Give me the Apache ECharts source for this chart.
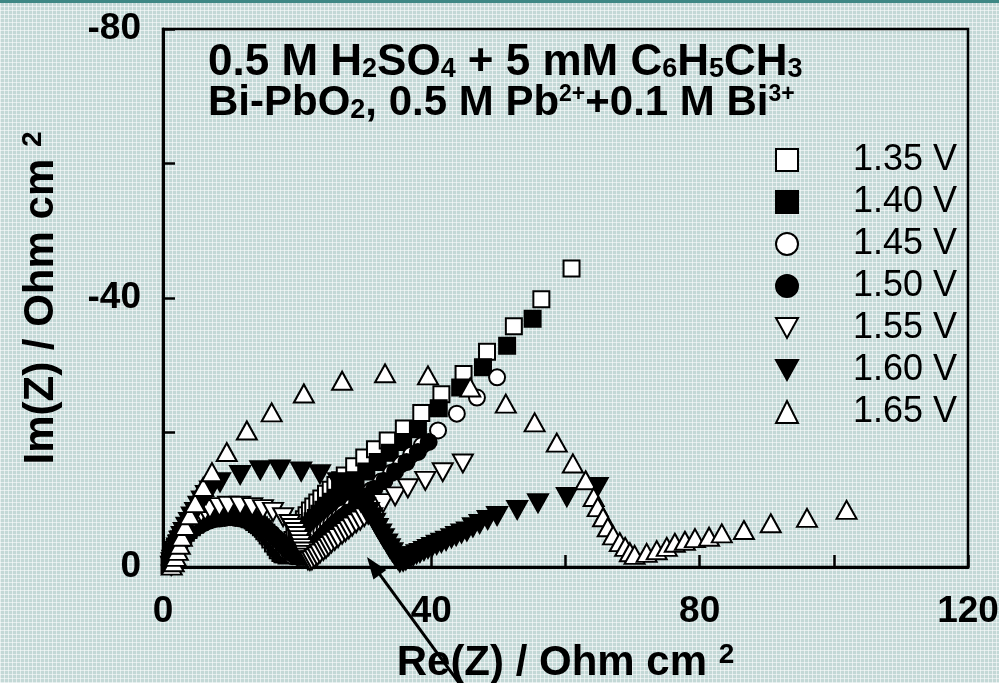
<!DOCTYPE html>
<html><head><meta charset="utf-8">
<script src="https://cdn.jsdelivr.net/npm/echarts@6/dist/echarts.min.js"></script>
<style>
html,body{margin:0;padding:0;width:999px;height:683px;overflow:hidden;}
body{background-color:#c3d8d6;background-image:repeating-linear-gradient(0deg,rgba(255,255,255,.55) 0 1px,transparent 1px 4px),repeating-linear-gradient(90deg,rgba(255,255,255,.55) 0 1px,transparent 1px 4px);}
#bar{position:absolute;left:0;top:0;width:999px;height:3px;background:#3d8784;}
#c{position:absolute;left:0;top:0;width:999px;height:683px;}
</style></head><body><div id="bar"></div><div id="c"></div>
<script>
// ---- data: [Re(Z), Im(Z)] in Ohm cm^2 ----
const seriesNames = ['1.35 V','1.40 V','1.45 V','1.50 V','1.55 V','1.60 V','1.65 V'];
const xTickLabels = [0, 40, 80, 120];
const yTickLabels = [0, -40, -80];

const s135 = [[1.0,-0.3],[1.1,-0.8],[1.2,-1.2],[1.35,-1.7],[1.5,-2.1],[1.7,-2.6],[1.9,-3.0],[2.1,-3.4],[2.4,-3.9],[2.7,-4.4],[3.0,-4.8],[3.4,-5.3],[3.8,-5.7],[4.3,-6.1],[4.8,-6.5],[5.4,-6.9],[6.0,-7.2],[6.7,-7.5],[7.4,-7.7],[8.1,-7.9],[8.9,-8.0],[9.7,-8.1],[10.5,-8.0],[11.3,-7.8],[12.0,-7.6],[12.7,-7.3],[13.4,-6.9],[14.0,-6.4],[14.6,-5.9],[15.1,-5.3],[15.6,-4.7],[16.0,-4.1],[16.4,-3.5],[16.8,-3.0],[17.1,-2.5],[17.5,-2.1],[17.8,-1.9],[18.2,-2.2],[18.6,-2.8],[19.0,-3.5],[19.3,-4.0],[19.6,-4.6],[19.9,-5.2],[20.2,-5.8],[20.6,-6.4],[21.0,-7.1],[21.4,-7.7],[21.9,-8.4],[22.4,-9.0],[23.0,-9.6],[23.6,-10.2],[24.3,-10.9],[25.0,-11.5],[25.7,-12.2],[26.4,-12.9],[27.1,-13.6],[28.5,-15.0],[30.0,-16.3],[31.6,-17.5],[33.5,-18.8],[35.9,-20.6],[38.5,-22.9],[41.5,-25.7],[44.8,-28.7],[48.3,-32.0],[52.3,-35.8],[56.4,-39.8],[60.9,-44.4]];
const s140 = [[1.0,-0.3],[1.1,-0.7],[1.2,-1.1],[1.35,-1.6],[1.5,-2.0],[1.7,-2.5],[1.9,-2.9],[2.1,-3.3],[2.4,-3.8],[2.7,-4.3],[3.0,-4.7],[3.4,-5.1],[3.8,-5.5],[4.3,-5.9],[4.8,-6.3],[5.4,-6.7],[6.0,-7.0],[6.7,-7.3],[7.4,-7.5],[8.1,-7.7],[8.9,-7.8],[9.7,-7.9],[10.5,-7.8],[11.3,-7.6],[12.1,-7.4],[12.9,-7.1],[13.6,-6.7],[14.3,-6.2],[14.9,-5.7],[15.4,-5.1],[15.9,-4.5],[16.4,-3.9],[16.8,-3.3],[17.2,-2.8],[17.6,-2.3],[18.0,-1.9],[18.4,-1.7],[18.8,-1.9],[19.2,-2.3],[19.6,-2.9],[19.9,-3.4],[20.2,-3.9],[20.6,-4.5],[21.0,-5.1],[21.4,-5.7],[21.8,-6.2],[22.3,-6.8],[22.8,-7.3],[23.3,-7.9],[23.9,-8.5],[24.5,-9.1],[25.1,-9.7],[25.8,-10.3],[26.5,-11.0],[27.2,-11.6],[28.7,-12.9],[30.3,-14.2],[32.0,-15.6],[33.8,-17.0],[35.8,-18.6],[38.0,-20.5],[41.1,-23.6],[44.3,-26.7],[47.7,-29.7],[51.3,-32.9],[55.1,-36.9]];
const s145 = [[1.0,-0.3],[1.1,-0.7],[1.2,-1.1],[1.35,-1.5],[1.5,-1.9],[1.7,-2.4],[1.9,-2.8],[2.1,-3.2],[2.4,-3.7],[2.7,-4.2],[3.1,-4.6],[3.5,-5.0],[3.9,-5.4],[4.4,-5.8],[4.9,-6.2],[5.5,-6.5],[6.1,-6.8],[6.8,-7.1],[7.5,-7.3],[8.2,-7.4],[9.0,-7.5],[9.8,-7.6],[10.6,-7.5],[11.4,-7.4],[12.2,-7.2],[13.0,-6.9],[13.8,-6.5],[14.5,-6.1],[15.2,-5.6],[15.8,-5.1],[16.4,-4.5],[17.0,-3.9],[17.5,-3.3],[18.0,-2.8],[18.4,-2.3],[18.9,-1.9],[19.3,-1.6],[19.8,-1.6],[20.2,-1.8],[20.6,-2.2],[21.0,-2.6],[21.4,-3.0],[21.8,-3.5],[22.2,-3.9],[22.7,-4.4],[23.1,-4.8],[23.6,-5.3],[24.1,-5.7],[24.6,-6.2],[25.1,-6.6],[25.7,-7.1],[26.3,-7.6],[26.9,-8.1],[28.2,-9.1],[29.6,-10.2],[31.0,-11.4],[32.5,-12.7],[34.0,-14.0],[35.5,-15.3],[37.0,-16.7],[38.6,-18.1],[41.0,-20.3],[43.8,-22.8],[46.8,-25.2],[49.8,-28.2]];
const s150 = [[1.0,-0.3],[1.1,-0.6],[1.2,-1.0],[1.35,-1.4],[1.5,-1.8],[1.7,-2.3],[1.9,-2.7],[2.2,-3.2],[2.5,-3.6],[2.8,-4.1],[3.2,-4.5],[3.6,-4.9],[4.0,-5.3],[4.5,-5.7],[5.0,-6.0],[5.6,-6.3],[6.2,-6.6],[6.9,-6.9],[7.6,-7.1],[8.4,-7.2],[9.2,-7.3],[10.0,-7.4],[10.8,-7.3],[11.6,-7.2],[12.4,-7.0],[13.2,-6.7],[14.0,-6.4],[14.8,-6.0],[15.5,-5.5],[16.2,-5.0],[16.8,-4.4],[17.4,-3.9],[17.9,-3.3],[18.4,-2.8],[18.9,-2.3],[19.4,-1.9],[19.9,-1.6],[20.4,-1.5],[20.9,-1.5],[21.4,-1.8],[21.8,-2.2],[22.2,-2.6],[22.6,-3.1],[23.0,-3.6],[23.4,-4.1],[23.8,-4.6],[24.3,-5.1],[24.8,-5.6],[25.3,-6.1],[25.8,-6.6],[26.4,-7.1],[27.0,-7.6],[27.6,-8.1],[28.9,-9.3],[30.2,-10.5],[31.5,-11.6],[33.0,-12.8],[34.6,-14.2],[36.3,-15.6],[38.0,-17.1],[39.6,-18.6]];
const s155 = [[1.2,-0.2],[1.3,-0.7],[1.4,-1.1],[1.6,-1.5],[1.75,-2.0],[1.9,-2.4],[2.1,-2.9],[2.4,-3.4],[2.7,-4.0],[3.0,-4.6],[3.3,-5.2],[3.7,-5.9],[4.1,-6.5],[4.6,-7.1],[5.1,-7.6],[5.7,-8.0],[6.3,-8.3],[7.0,-8.6],[8.4,-8.9],[9.7,-9.1],[11.5,-9.1],[13.3,-8.9],[14.9,-8.6],[16.4,-8.2],[17.9,-7.4],[18.9,-6.4],[19.3,-5.8],[19.7,-5.2],[20.0,-4.6],[20.3,-4.0],[20.5,-3.4],[20.7,-2.8],[21.0,-2.3],[21.2,-1.8],[21.4,-1.4],[21.6,-1.0],[21.9,-0.9],[22.2,-1.0],[22.6,-1.3],[23.0,-1.6],[23.4,-2.0],[23.9,-2.4],[24.3,-2.7],[24.7,-3.1],[25.1,-3.5],[25.6,-3.9],[26.1,-4.3],[26.7,-4.8],[27.2,-5.2],[27.7,-5.6],[28.2,-6.0],[28.8,-6.5],[29.4,-6.9],[30.0,-7.4],[30.6,-7.8],[31.2,-8.3],[32.0,-8.9],[32.8,-9.5],[34.6,-10.5],[36.5,-11.7],[39.1,-12.8],[41.7,-14.1],[44.7,-15.4]];
const s160 = [[1.3,-0.2],[1.4,-0.5],[1.5,-0.7],[1.65,-1.2],[1.8,-1.6],[1.95,-2.1],[2.1,-2.7],[2.3,-3.3],[2.5,-3.9],[2.8,-4.6],[3.1,-5.2],[3.5,-6.0],[3.9,-6.7],[4.3,-7.5],[4.8,-8.2],[5.3,-9.1],[5.8,-9.9],[6.4,-10.7],[7.0,-11.4],[8.5,-12.6],[11.5,-13.7],[14.5,-14.4],[17.4,-14.5],[20.6,-14.2],[23.4,-13.8],[26.1,-12.6],[26.8,-12.0],[27.6,-11.4],[28.2,-10.8],[28.9,-10.2],[29.5,-9.6],[30.1,-8.9],[30.7,-8.2],[31.2,-7.4],[31.6,-6.6],[32.0,-5.8],[32.5,-5.0],[32.9,-4.3],[33.4,-3.5],[33.8,-2.8],[34.2,-2.2],[34.6,-1.6],[35.0,-1.1],[35.3,-0.7],[35.8,-0.8],[36.2,-1.0],[36.8,-1.3],[37.3,-1.6],[37.8,-1.9],[38.3,-2.1],[38.9,-2.4],[39.5,-2.7],[40.1,-3.0],[40.8,-3.3],[41.5,-3.6],[42.2,-3.9],[43.0,-4.3],[43.7,-4.6],[44.5,-5.0],[45.3,-5.3],[46.2,-5.9],[47.2,-6.4],[48.4,-7.0],[49.8,-7.6],[52.8,-8.5],[55.9,-9.5],[60.2,-10.4],[64.8,-11.9]];
const s165 = [[1.3,-0.2],[1.6,-0.7],[1.9,-1.5],[2.2,-2.4],[2.5,-3.3],[2.8,-4.5],[3.3,-6.1],[4.0,-7.7],[4.8,-9.5],[6.0,-11.9],[7.3,-14.1],[9.5,-17.1],[12.5,-20.3],[16.2,-23.0],[21.0,-25.8],[26.7,-27.7],[33.1,-28.8],[39.5,-28.5],[45.8,-26.7],[51.1,-24.3],[55.4,-21.5],[58.7,-18.5],[61.1,-15.4],[63.0,-12.9],[64.2,-10.4],[64.8,-8.9],[65.6,-7.4],[66.3,-5.9],[67.1,-4.7],[68.1,-3.7],[68.9,-3.0],[69.6,-2.2],[70.3,-1.8],[72.1,-2.1],[73.6,-2.5],[75.1,-3.0],[76.3,-3.6],[77.8,-3.9],[79.3,-4.3],[81.4,-4.5],[83.3,-5.0],[86.6,-5.5],[90.6,-6.5],[96.0,-7.3],[101.9,-8.5]];
const allData = [s135, s140, s145, s150, s155, s160, s165];

const FONT = '"Liberation Sans", Arial, Helvetica, sans-serif';
const DOWN = 'path://M0,0L20,0L10,18Z';
const symbols = ['rect','rect','circle','circle', DOWN, DOWN, 'triangle'];
const fills = ['#fff','#000','#fff','#000','#fff','#000','#fff'];
const sizes = [16,16,16,16,[20,18],[20,18],[20,18]];

const chart = echarts.init(document.getElementById('c'), null, {renderer:'canvas'});
const lbl = {fontSize:37, fontWeight:'bold', color:'#000', fontFamily:FONT};

const option = {
  animation:false,
  backgroundColor:'transparent',
  title:{
    left:208, top:42, padding:0,
    text:'{a|0.5 M H}{b|2}{a|SO}{b|4}{a| + 5 mM C}{b|6}{a|H}{b|5}{a|CH}{b|3}\n{d|Bi-PbO}{b|2}{d|, 0.5 M Pb}{c|2+}{d|+0.1 M Bi}{c|3+}',
    textStyle:{
      rich:{
        a:{fontSize:44, fontWeight:'bold', color:'#000', lineHeight:41, fontFamily:FONT},
        d:{fontSize:42, fontWeight:'bold', color:'#000', lineHeight:41, fontFamily:FONT},
        b:{fontSize:27, fontWeight:'bold', color:'#000', lineHeight:18, verticalAlign:'bottom', fontFamily:FONT},
        c:{fontSize:23, fontWeight:'bold', color:'#000', lineHeight:18, verticalAlign:'top', fontFamily:FONT}
      }
    }
  },
  legend:{
    orient:'vertical', left:775, top:142, padding:0, itemWidth:22, itemHeight:22, itemGap:6,
    data: seriesNames.map((n,i)=>({name:n, icon:symbols[i]})),
    textStyle:{fontSize:36, color:'#000', fontFamily:FONT, padding:[0,0,0,50]}
  },
  grid:{left:163, right:31, top:29, bottom:116, outerBoundsMode:'none', containLabel:false, show:true, borderColor:'#000', borderWidth:2.5, backgroundColor:'transparent'},
  xAxis:{
    type:'value', min:0, max:120, interval:20,
    axisLine:{show:true, onZero:false, lineStyle:{color:'#000', width:3}},
    axisTick:{show:true, inside:true, length:12, lineStyle:{color:'#000', width:2.5}},
    axisLabel:Object.assign({margin:26, formatter:v=>xTickLabels.includes(v)?String(v):''}, lbl),
    splitLine:{show:false},
    name:'{a|Re(Z) / Ohm cm }{p|2}', nameLocation:'middle', nameGap:74,
    nameTextStyle:{rich:{
      a:{fontSize:42, fontWeight:'bold', color:'#000', fontFamily:FONT, lineHeight:44},
      p:{fontSize:28, fontWeight:'bold', color:'#000', fontFamily:FONT, lineHeight:22, verticalAlign:'top'}
    }}
  },
  yAxis:{
    type:'value', min:-80, max:0, interval:20, inverse:true,
    axisLine:{show:true, onZero:false, lineStyle:{color:'#000', width:3}},
    axisTick:{show:true, inside:true, length:12, lineStyle:{color:'#000', width:2.5}},
    axisLabel:Object.assign({margin:22, formatter:v=>yTickLabels.includes(v)?String(v):''}, lbl),
    splitLine:{show:false},
    name:'{a|Im(Z) / Ohm cm }{p|2}', nameLocation:'middle', nameGap:100, nameRotate:90,
    nameTextStyle:{rich:{
      a:{fontSize:42, fontWeight:'bold', color:'#000', fontFamily:FONT, lineHeight:44},
      p:{fontSize:28, fontWeight:'bold', color:'#000', fontFamily:FONT, lineHeight:22, verticalAlign:'top'}
    }}
  },
  series: allData.map((d,i)=>({
    name:seriesNames[i], type:'scatter', data:d,
    symbol:symbols[i], symbolSize:sizes[i],
    itemStyle:{color:fills[i], borderColor:'#000', borderWidth:2, opacity:1},
    emphasis:{disabled:true}
  }))
};
chart.setOption(option);

// annotation arrow (tip anchored to a data location)
const tip = chart.convertToPixel({gridIndex:0}, [30.4, -1.5]);
const tail = [tip[0]+95, tip[1]+130];
const dx = tip[0]-tail[0], dy = tip[1]-tail[1], L = Math.hypot(dx,dy);
const ux = dx/L, uy = dy/L, hl = 22, hw = 8;
const bx = tip[0]-ux*hl, by = tip[1]-uy*hl;
chart.setOption({graphic:[
  {type:'line', shape:{x1:tail[0], y1:tail[1], x2:bx+ux*4, y2:by+uy*4}, style:{stroke:'#000', lineWidth:3}, z:100},
  {type:'polygon', shape:{points:[[tip[0],tip[1]],[bx-uy*hw,by+ux*hw],[bx+uy*hw,by-ux*hw]]}, style:{fill:'#000'}, z:100}
]});
</script></body></html>
